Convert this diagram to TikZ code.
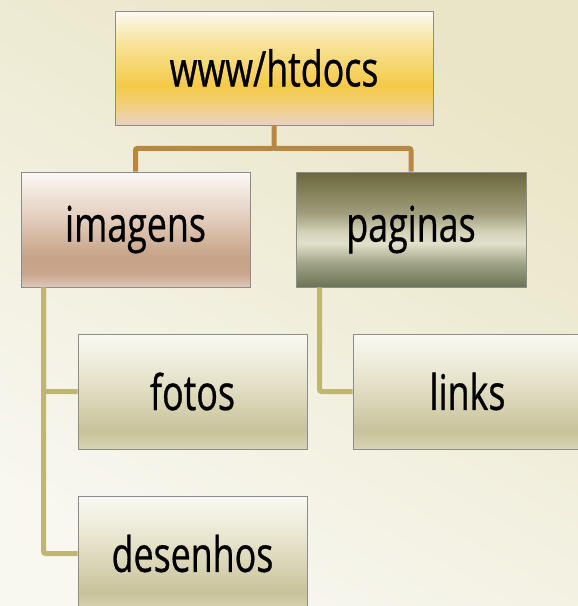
\documentclass[tikz,border=0pt]{standalone}
\usepackage{fontspec}
\setmainfont{Open Sans}[FakeStretch=0.73,FakeBold=0.6]
\definecolor{bgA}{HTML}{F8F7F0}
\definecolor{bgB}{HTML}{E9E5C6}
\definecolor{brownline}{HTML}{B98744}
\definecolor{oliveline}{HTML}{BFB673}
\definecolor{boxborder}{HTML}{8C8C8C}
\pgfdeclareverticalshading{topshade}{100bp}{%
  color(0bp)=(rgb,255:red,232;green,208;blue,196);
  color(25bp)=(rgb,255:red,232;green,208;blue,196);
  color(32bp)=(rgb,255:red,240;green,208;blue,138);
  color(42bp)=(rgb,255:red,244;green,201;blue,71);
  color(60bp)=(rgb,255:red,248;green,226;blue,150);
  color(75bp)=(rgb,255:red,252;green,250;blue,242);
  color(100bp)=(rgb,255:red,252;green,250;blue,242)}
\pgfdeclareverticalshading{imgshade}{100bp}{%
  color(0bp)=(rgb,255:red,222;green,200;blue,186);
  color(25bp)=(rgb,255:red,222;green,200;blue,186);
  color(31bp)=(rgb,255:red,201;green,166;blue,140);
  color(38bp)=(rgb,255:red,199;green,162;blue,135);
  color(55bp)=(rgb,255:red,227;green,205;blue,189);
  color(75bp)=(rgb,255:red,251;green,249;blue,246);
  color(100bp)=(rgb,255:red,251;green,249;blue,246)}
\pgfdeclareverticalshading{pagshade}{100bp}{%
  color(0bp)=(rgb,255:red,107;green,114;blue,86);
  color(25bp)=(rgb,255:red,107;green,114;blue,86);
  color(35bp)=(rgb,255:red,158;green,162;blue,133);
  color(44bp)=(rgb,255:red,226;green,224;blue,202);
  color(49bp)=(rgb,255:red,212;green,210;blue,184);
  color(57bp)=(rgb,255:red,160;green,158;blue,124);
  color(75bp)=(rgb,255:red,107;green,102;blue,58);
  color(100bp)=(rgb,255:red,107;green,102;blue,58)}
\pgfdeclareverticalshading{leafshade}{100bp}{%
  color(0bp)=(rgb,255:red,216;green,212;blue,180);
  color(25bp)=(rgb,255:red,216;green,212;blue,180);
  color(33bp)=(rgb,255:red,200;green,194;blue,154);
  color(55bp)=(rgb,255:red,230;green,227;blue,203);
  color(75bp)=(rgb,255:red,250;green,249;blue,243);
  color(100bp)=(rgb,255:red,250;green,249;blue,243)}
\tikzset{
  box/.style={rectangle, draw=boxborder, line width=0.8pt, minimum width=229pt,
    minimum height=115pt, inner sep=0pt, font=\fontsize{49}{52}\selectfont, text=black},
  brownconn/.style={draw=brownline, line width=5pt, rounded corners=2pt},
  oliveconn/.style={draw=oliveline, line width=5pt, rounded corners=2pt},
}
\begin{document}
\begin{tikzpicture}[x=1pt,y=-1pt]
\useasboundingbox (0,0) rectangle (578,606);
\shade[left color=bgA, right color=bgB, shading angle=150] (0,0) rectangle (578,606);
\node[box, shading=topshade, minimum width=318pt, minimum height=114pt] (top) at (274,68) {www/htdocs};
\node[box, shading=imgshade] (imagens) at (135.5,229.5) {imagens};
\node[box, shading=pagshade, minimum width=230pt] (paginas) at (411,229.5) {paginas};
\node[box, shading=leafshade] (fotos) at (192.5,391.5) {fotos};
\node[box, shading=leafshade] (desenhos) at (192.5,553.5) {desenhos};
\node[box, shading=leafshade] (links) at (467.5,391.5) {links};
\coordinate (hub) at ([yshift=-23pt]top.south);
\draw[brownconn] (top.south) -- (hub) -| (imagens.north);
\draw[brownconn] (hub) -| (paginas.north);
\coordinate (lspine) at ([xshift=23pt]imagens.south west);
\coordinate (rspine) at ([xshift=24pt]paginas.south west);
\draw[oliveconn] (lspine) |- (fotos.west);
\draw[oliveconn] (lspine) |- (desenhos.west);
\draw[oliveconn] (rspine) |- (links.west);
\end{tikzpicture}
\end{document}
